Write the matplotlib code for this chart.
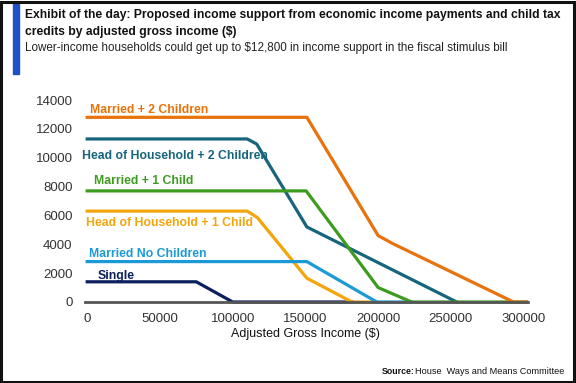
import matplotlib
matplotlib.use("Agg")
import matplotlib.pyplot as plt
from matplotlib.patches import Rectangle

FONT = "Liberation Sans"

# income support by adjusted gross income ($)
single_x = [0, 75000, 100000, 182000]
single_y = [1400, 1400, 0, 0]
hoh1_x = [0, 110000, 117000, 151000, 182000, 199000]
hoh1_y = [6300, 6300, 5850, 1650, 0, 0]
married0_x = [0, 151000, 199000, 223000]
married0_y = [2800, 2800, 0, 0]
hoh2_x = [0, 110000, 116500, 151000, 254000]
hoh2_y = [11300, 11300, 10950, 5200, 0]
married1_x = [0, 150500, 200000, 223000, 302000]
married1_y = [7700, 7700, 1000, 0, 0]
married2_x = [0, 151000, 200000, 210000, 293000, 302000]
married2_y = [12800, 12800, 4600, 4050, 0, 0]

labels = ["Single", "Head of Household + 1 Child", "Married No Children",
          "Head of Household + 2 Children", "Married + 1 Child", "Married + 2 Children"]
colors = ["#0c1f5e", "#f2a60c", "#1b9ad6", "#17657c", "#3d9c1f", "#e8720c"]
xs = [single_x, hoh1_x, married0_x, hoh2_x, married1_x, married2_x]
ys = [single_y, hoh1_y, married0_y, hoh2_y, married1_y, married2_y]
label_pos = [(7200, 1590), (-1000, 5260), (1000, 3120), (-3800, 9910), (4500, 8190), (1700, 13080)]

yticks = [0, 2000, 4000, 6000, 8000, 10000, 12000, 14000]
xticks = [0, 50000, 100000, 150000, 200000, 250000, 300000]

fig = plt.figure(figsize=(5.76, 3.83), dpi=100)
ax = fig.add_axes([85 / 576, 0.2115, 443 / 576, 0.5274])

for x, y, c, lab, (tx, ty) in zip(xs, ys, colors, labels, label_pos):
    ax.plot(x, y, color=c, lw=2.3, clip_on=False, solid_joinstyle="round")
    ax.text(tx, ty, lab, color=c, fontsize=8.8, fontweight="bold", family=FONT,
            ha="left", va="baseline")

ax.set_xlim(-1500, 303000)
ax.set_ylim(0, 14000)
ax.set_xticks(xticks)
ax.set_xticklabels([str(v) for v in xticks])
ax.set_yticks(yticks)
ax.set_yticklabels([str(v) for v in yticks])
ax.tick_params(length=0, labelsize=9.5, labelcolor="#333333")
ax.tick_params(axis="y", pad=9)
ax.tick_params(axis="x", pad=8)
for lbl in ax.get_xticklabels() + ax.get_yticklabels():
    lbl.set_family(FONT)
for s in ["top", "right", "left"]:
    ax.spines[s].set_visible(False)
ax.spines["bottom"].set_color("#555555")
ax.spines["bottom"].set_linewidth(2)
ax.set_xlabel("Adjusted Gross Income ($)", fontsize=9, family=FONT, color="#111111")
ax.xaxis.set_label_coords(0.497, -0.129)

fig.text(25 / 576, 1 - 15 / 383, "Exhibit of the day: Proposed income support from economic income payments and child tax",
         fontsize=8.7, fontweight="bold", family=FONT, va="center", ha="left", color="#111111")
fig.text(25 / 576, 1 - 32 / 383, "credits by adjusted gross income ($)",
         fontsize=8.7, fontweight="bold", family=FONT, va="center", ha="left", color="#111111")
fig.text(25 / 576, 1 - 48 / 383, "Lower-income households could get up to $12,800 in income support in the fiscal stimulus bill",
         fontsize=8.4, family=FONT, va="center", ha="left", color="#222222")

fig.text(564 / 576, 1 - 372 / 383, "House  Ways and Means Committee", fontsize=6.6,
         family=FONT, ha="right", va="center", color="#111111")
fig.text(415 / 576, 1 - 372 / 383, "Source:", fontsize=6.3, fontweight="bold",
         family=FONT, ha="right", va="center", color="#111111")

fig.patches.append(Rectangle((13 / 576, 1 - 74 / 383), 6 / 576, 70 / 383,
                             transform=fig.transFigure, color="#1e50c8"))
fig.patches.append(Rectangle((0.002, 0.003), 0.994, 0.993, transform=fig.transFigure,
                             fill=False, edgecolor="#111111", lw=2.2))

fig.savefig("out.png", dpi=100)
